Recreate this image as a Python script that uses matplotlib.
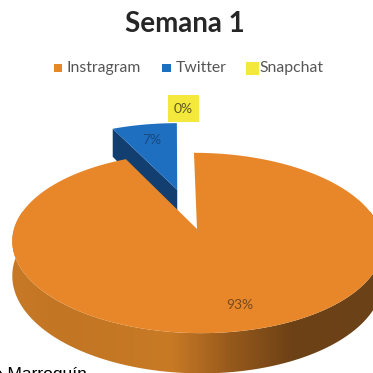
import numpy as np
import matplotlib
matplotlib.use("Agg")
from matplotlib import pyplot as plt
from matplotlib.colors import LinearSegmentedColormap
from matplotlib.patches import Polygon, Rectangle

TITLE = "Semana 1"
CATEGORIES = ["Instragram", "Twitter", "Snapchat"]
VALUES = [93, 7, 0]
CREDIT = "e Marroquín"

ORANGE = "#E8872A"
BLUE = "#1F6FC0"
DARK_BLUE = "#123F70"
YELLOW = "#F4E83C"
COLORS = [ORANGE, BLUE, YELLOW]

# pie geometry in pixels, with a simple perspective on the depth axis
CX, CY = 197, 229
RX, RY = 183, 88
PERSP = 0.155
SHEAR = 0.04
THICK = 34
EXPLODE = 0.49


def project(x, y, drop=0.0):
    w = 1 + PERSP * y
    sy = -RY * y / w
    return CX + RX * x / w + SHEAR * sy, CY + sy + drop / w


def wedge_top(start, end, off=(0, 0)):
    # angles in degrees, clockwise from twelve o'clock
    t = np.radians(np.linspace(start, end, 200))
    xs = np.r_[off[0], off[0] + np.sin(t)]
    ys = np.r_[off[1], off[1] + np.cos(t)]
    return np.column_stack(project(xs, ys))


fig = plt.figure(figsize=(3.73, 3.73), dpi=100)
ax = fig.add_axes([0, 0, 1, 1])
ax.set_axis_off()

angles = np.cumsum([0] + VALUES) / sum(VALUES) * 360

# Twitter slice is pulled out towards the back
mid = np.radians((angles[1] + angles[2]) / 2)
off = (EXPLODE * np.sin(mid), EXPLODE * np.cos(mid))
blue_top = wedge_top(angles[1], angles[2], off)

left_x, left_y = off[0] + np.sin(np.radians(angles[1])), off[1] + np.cos(np.radians(angles[1]))
side = [project(off[0], off[1]), project(left_x, left_y),
        project(left_x, left_y, THICK), project(off[0], off[1], THICK)]
ax.add_patch(Polygon(side, closed=True, fc=DARK_BLUE, ec="none", zorder=1))
ax.add_patch(Polygon(blue_top, closed=True, fc=BLUE, ec="none", zorder=2))

# rim of the big slice, shaded left to right
t = np.radians(np.linspace(78, 282, 300))
rx, ry = np.sin(t), np.cos(t)
upper = np.column_stack(project(rx, ry))
lower = np.column_stack(project(rx, ry, THICK))
rim = Polygon(np.vstack([upper, lower[::-1]]), closed=True, fc="none", ec="none", zorder=3)
ax.add_patch(rim)
rim_cmap = LinearSegmentedColormap.from_list("rim", [
    (0.00, "#6B4118"), (0.22, "#6E4216"), (0.38, "#96591C"),
    (0.54, "#C87A25"), (0.84, "#C27523"), (1.00, "#C87A28")])
grad = np.linspace(1, 0, 256).reshape(1, -1)
img = ax.imshow(grad, extent=(0, 373, 380, 200), cmap=rim_cmap, aspect="auto", zorder=3)
img.set_clip_path(rim)

ax.add_patch(Polygon(wedge_top(angles[0], angles[1]), closed=True,
                     fc=ORANGE, ec="none", zorder=4))

ax.set_xlim(0, 373)
ax.set_ylim(373, 0)

ax.text(185, 24, TITLE, ha="center", va="center", family="Lato",
        fontweight="bold", fontsize=20, color="#262626")

# legend
swatches = [(54, 64, 8, 8), (162, 64, 9, 8), (246, 62, 13, 13)]
text_x = [67, 176, 259]
for name, col, sw, tx in zip(CATEGORIES, COLORS, swatches, text_x):
    ax.add_patch(Rectangle(sw[:2], sw[2], sw[3], fc=col, ec="none"))
    ax.text(tx, 68, name, ha="left", va="center", family="Lato",
            fontsize=11.3, color="#555555")

# value labels
ax.text(240, 305, f"{VALUES[0]}%", ha="center", va="center", family="Lato",
        fontsize=10, color="#7A4A1C", zorder=6)
ax.text(152, 140, f"{VALUES[1]}%", ha="center", va="center", family="Lato",
        fontsize=10, color="#174A80", zorder=6)
ax.add_patch(Rectangle((168, 95), 31, 27, fc=YELLOW, ec="none", zorder=5))
ax.text(183, 109, f"{VALUES[2]}%", ha="center", va="center", family="Lato",
        fontsize=10, color="#5C5A20", zorder=6)

ax.text(-7, 379, CREDIT, ha="left", va="baseline", family="Liberation Sans",
        fontsize=12.5, color="black")

fig.savefig("out.png", dpi=100)
